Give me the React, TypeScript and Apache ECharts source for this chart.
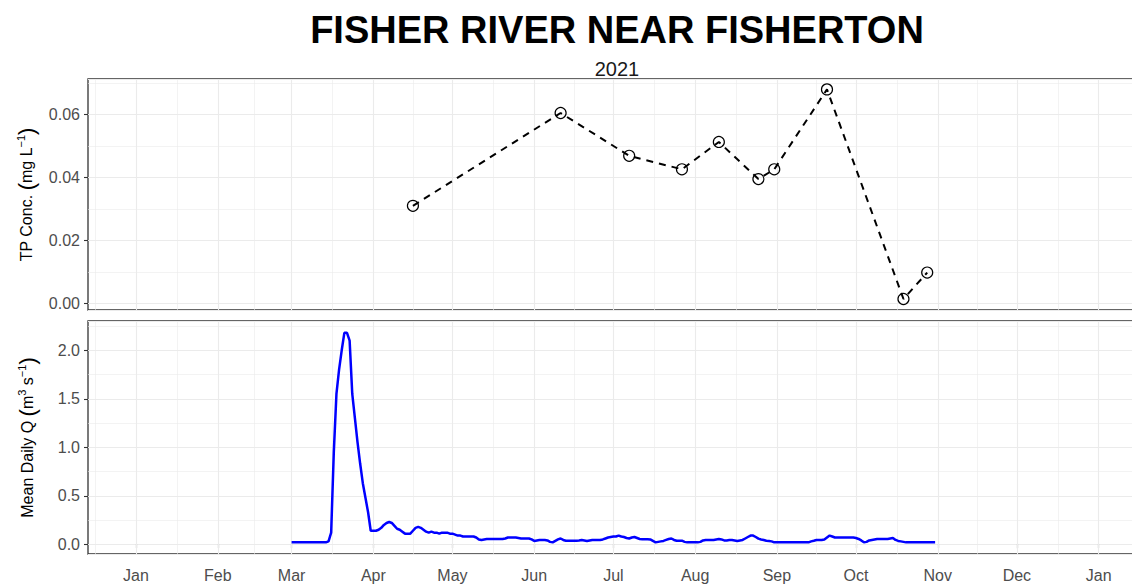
import { useEffect, useRef } from "react";
import * as echarts from "echarts";

const TITLE = "FISHER RIVER NEAR FISHERTON";
const SUBTITLE = "2021";
const TP_AXIS_NAME = "{t|TP Conc. }{p|(}{t|mg L}{s|−1}{p|)}";
const Q_AXIS_NAME = "{t|Mean Daily Q }{p|(}{t|m}{s|3}{t| s}{s|−1}{p|)}";
const MONTH_LABELS = ["Jan", "Feb", "Mar", "Apr", "May", "Jun", "Jul", "Aug", "Sep", "Oct", "Nov", "Dec"];

// Total phosphorus samples
const TP_DATES = [
  "2021-04-16", "2021-06-11", "2021-07-07", "2021-07-27", "2021-08-10",
  "2021-08-25", "2021-08-31", "2021-09-20", "2021-10-19", "2021-10-28",
];
const TP_VALUES = [0.031, 0.0605, 0.0469, 0.0426, 0.0513, 0.0395, 0.0426, 0.068, 0.0014, 0.0098];

// Mean daily discharge, daily from Q_START
const Q_START = "2021-03-01";
const Q_MAR = [0.02, 0.02, 0.02, 0.02, 0.02, 0.02, 0.02, 0.02, 0.02, 0.02, 0.02, 0.02, 0.02, 0.02,
  0.03, 0.12, 0.95, 1.55, 1.8, 2.0, 2.18, 2.18, 2.1, 1.55, 1.3, 1.05, 0.83, 0.63, 0.48, 0.33, 0.14];
const Q_APR = [0.14, 0.14, 0.15, 0.17, 0.2, 0.22, 0.23, 0.22, 0.19, 0.16, 0.15, 0.13, 0.11, 0.11, 0.11,
  0.14, 0.17, 0.18, 0.17, 0.15, 0.13, 0.12, 0.13, 0.12, 0.12, 0.11, 0.12, 0.12, 0.12, 0.11];
const Q_MAY = [0.11, 0.1, 0.09, 0.09, 0.08, 0.08, 0.08, 0.08, 0.08, 0.07, 0.05, 0.045, 0.05, 0.055, 0.055,
  0.055, 0.055, 0.055, 0.055, 0.055, 0.06, 0.07, 0.07, 0.07, 0.07, 0.065, 0.06, 0.06, 0.06, 0.06, 0.05];
const Q_JUN = [0.035, 0.04, 0.045, 0.045, 0.045, 0.04, 0.025, 0.02, 0.035, 0.05, 0.06, 0.045, 0.037, 0.037, 0.037,
  0.037, 0.037, 0.04, 0.045, 0.04, 0.034, 0.04, 0.045, 0.045, 0.045, 0.045, 0.05, 0.06, 0.07, 0.075];
const Q_JUL = [0.08, 0.08, 0.09, 0.08, 0.075, 0.065, 0.06, 0.07, 0.075, 0.065, 0.055, 0.052, 0.052, 0.052, 0.05,
  0.035, 0.02, 0.025, 0.03, 0.035, 0.045, 0.055, 0.06, 0.045, 0.037, 0.037, 0.037, 0.025, 0.02, 0.02, 0.02];
const Q_AUG = [0.02, 0.02, 0.025, 0.04, 0.045, 0.045, 0.045, 0.045, 0.05, 0.055, 0.05, 0.04, 0.04, 0.045, 0.045,
  0.04, 0.035, 0.04, 0.045, 0.06, 0.075, 0.09, 0.09, 0.075, 0.058, 0.05, 0.045, 0.037, 0.035, 0.03, 0.02];
const Q_SEP = [0.02, 0.02, 0.02, 0.02, 0.02, 0.02, 0.02, 0.02, 0.02, 0.02, 0.02, 0.02, 0.02,
  0.03, 0.037, 0.045, 0.045, 0.045, 0.05, 0.07, 0.09, 0.08, 0.07, 0.07, 0.07, 0.07, 0.07, 0.07, 0.07, 0.07];
const Q_OCT = [0.065, 0.055, 0.04, 0.02, 0.025, 0.04, 0.045, 0.05, 0.055, 0.055, 0.055, 0.055, 0.055, 0.06, 0.065,
  0.045, 0.035, 0.03, 0.025, 0.02, 0.02, 0.02, 0.02, 0.02, 0.02, 0.02, 0.02, 0.02, 0.02, 0.02, 0.02];

// Gridline breaks (ggplot-like major month starts, minor mid-points)
const MONTH_STARTS = [
  "2020-12-01", "2021-01-01", "2021-02-01", "2021-03-01", "2021-04-01", "2021-05-01", "2021-06-01",
  "2021-07-01", "2021-08-01", "2021-09-01", "2021-10-01", "2021-11-01", "2021-12-01", "2022-01-01", "2022-02-01",
];
const TP_MINOR = [0.01, 0.03, 0.05, 0.07];
const Q_MINOR = [0.25, 0.75, 1.25, 1.75, 2.25];

const DAY = 86400000;
const toTs = (s: string) => new Date(s + "T00:00:00Z").getTime();
const X_MIN = toTs("2021-01-01") - 18.2 * DAY;
const X_MAX = toTs("2021-12-31") + 18.2 * DAY;

const FONT = "'Liberation Sans', Arial, Helvetica, sans-serif";
const GRID_COLOR = "#EBEBEB";

function gridLinesSeries(gridIdx: number, yMinor: number[]) {
  const starts = MONTH_STARTS.map(toTs);
  const majors = starts.slice(1, -1).map((t) => ({ xAxis: t, lineStyle: { color: GRID_COLOR, width: 1.1, type: "solid" } }));
  const minors = starts.slice(0, -1).map((t, i) => ({
    xAxis: (t + starts[i + 1]) / 2,
    lineStyle: { color: GRID_COLOR, width: 0.6, type: "solid" },
  }));
  const yMin = yMinor.map((v) => ({ yAxis: v, lineStyle: { color: GRID_COLOR, width: 0.6, type: "solid" } }));
  return {
    type: "line",
    xAxisIndex: gridIdx,
    yAxisIndex: gridIdx,
    data: [],
    silent: true,
    markLine: {
      silent: true,
      z: 1,
      symbol: "none",
      animation: false,
      label: { show: false },
      emphasis: { disabled: true },
      lineStyle: { type: "solid" },
      data: [...minors, ...majors, ...yMin],
    },
  };
}

export default function App() {
  const ref = useRef<HTMLDivElement>(null);
  useEffect(() => {
    if (!ref.current) return;
    document.body.style.margin = "0";
    document.body.style.overflow = "hidden";
    const chart = echarts.init(ref.current, null, { renderer: "svg" });

    const qValues = [...Q_MAR, ...Q_APR, ...Q_MAY, ...Q_JUN, ...Q_JUL, ...Q_AUG, ...Q_SEP, ...Q_OCT];
    const qStart = toTs(Q_START);
    const qData = qValues.map((v, i) => [qStart + i * DAY, v]);
    const tpData = TP_DATES.map((d, i) => [toTs(d), TP_VALUES[i]]);

    const yLabel = { fontSize: 16, color: "#4D4D4D", fontFamily: FONT, margin: 8, showMinLabel: false, showMaxLabel: false };
    const yTick = { show: true, length: 4, lineStyle: { color: "#333333", width: 1.1 } };
    const splitLine = { show: true, lineStyle: { color: GRID_COLOR, width: 1.1 } };
    const nameStyle = {
      fontSize: 16,
      color: "#000",
      fontFamily: FONT,
      rich: {
        t: { fontSize: 16, color: "#000", fontFamily: FONT, verticalAlign: "middle" },
        p: { fontSize: 22, color: "#000", fontFamily: FONT, verticalAlign: "middle" },
        s: { fontSize: 11, color: "#000", fontFamily: FONT, verticalAlign: "top" },
      },
    };

    const option: any = {
      animation: false,
      useUTC: true,
      backgroundColor: "#ffffff",
      textStyle: { fontFamily: FONT },
      graphic: [
        {
          type: "text",
          x: 617,
          y: 30,
          style: { text: TITLE, font: `bold 38px ${FONT}`, fill: "#000", textAlign: "center", textVerticalAlign: "middle" },
        },
        {
          type: "text",
          x: 617,
          y: 69,
          style: { text: SUBTITLE, font: `20px ${FONT}`, fill: "#1A1A1A", textAlign: "center", textVerticalAlign: "middle" },
        },
      ],
      grid: [
        { left: 88, top: 79, width: 1056, height: 231, show: true, borderColor: "#333333", borderWidth: 1.3, backgroundColor: "transparent" },
        { left: 88, top: 321, width: 1056, height: 233, show: true, borderColor: "#333333", borderWidth: 1.3, backgroundColor: "transparent" },
      ],
      xAxis: [
        {
          gridIndex: 0,
          type: "time",
          min: X_MIN,
          max: X_MAX,
          axisLine: { show: false },
          axisTick: { show: false },
          axisLabel: { show: false },
          splitLine: { show: false },
        },
        {
          gridIndex: 1,
          type: "time",
          min: X_MIN,
          max: X_MAX,
          splitNumber: 13,
          minInterval: 28 * DAY,
          maxInterval: 31 * DAY,
          axisLine: { show: false },
          axisTick: { show: true, length: 4, lineStyle: { color: "#333333", width: 1.1 } },
          axisLabel: {
            fontSize: 16,
            color: "#4D4D4D",
            fontFamily: FONT,
            margin: 13,
            formatter: (val: number) => {
              const d = new Date(val);
              if (d.getUTCDate() !== 1 || d.getUTCHours() !== 0 || d.getUTCMinutes() !== 0) return "";
              return MONTH_LABELS[d.getUTCMonth()];
            },
          },
          splitLine: { show: false },
        },
      ],
      yAxis: [
        {
          gridIndex: 0,
          type: "value",
          min: -0.0021,
          max: 0.0713,
          splitNumber: 4,
          name: TP_AXIS_NAME,
          nameLocation: "middle",
          nameGap: 50,
          nameTextStyle: nameStyle,
          axisLine: { show: false },
          axisTick: yTick,
          axisLabel: { ...yLabel, formatter: (v: number) => v.toFixed(2) },
          splitLine,
        },
        {
          gridIndex: 1,
          type: "value",
          min: -0.1,
          max: 2.302,
          splitNumber: 5,
          name: Q_AXIS_NAME,
          nameLocation: "middle",
          nameGap: 50,
          nameTextStyle: nameStyle,
          axisLine: { show: false },
          axisTick: yTick,
          axisLabel: { ...yLabel, formatter: (v: number) => v.toFixed(1) },
          splitLine,
        },
      ],
      series: [
        gridLinesSeries(0, TP_MINOR),
        gridLinesSeries(1, Q_MINOR),
        {
          type: "line",
          xAxisIndex: 0,
          yAxisIndex: 0,
          data: tpData,
          z: 3,
          symbol: "circle",
          symbolSize: 11,
          showAllSymbol: true,
          itemStyle: { color: "rgba(255,255,255,0)", borderColor: "#000", borderWidth: 1.2 },
          lineStyle: { color: "#000", width: 2, type: [7, 6] },
          emphasis: { disabled: true },
        },
        {
          type: "line",
          xAxisIndex: 1,
          yAxisIndex: 1,
          data: qData,
          z: 3,
          showSymbol: false,
          symbol: "none",
          lineStyle: { color: "#0000FF", width: 2.5 },
          emphasis: { disabled: true },
        },
      ],
    };

    chart.setOption(option);
    return () => chart.dispose();
  }, []);

  return (
    <div
      ref={ref}
      style={{ position: "fixed", left: 0, top: 0, width: 1160, height: 586, background: "#fff" }}
    />
  );
}
